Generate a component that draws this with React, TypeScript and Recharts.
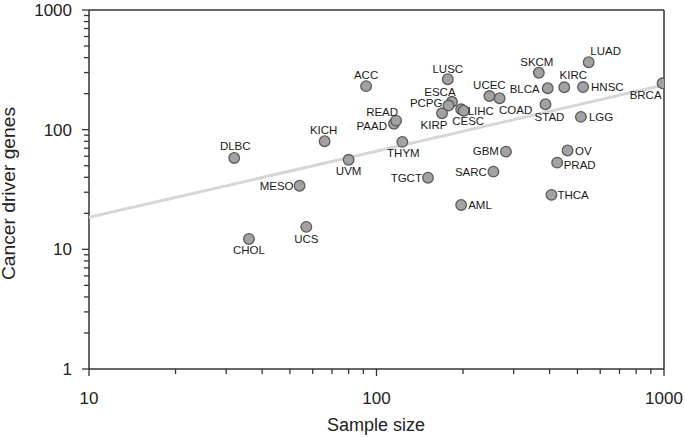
import React from 'react';
import { ScatterChart, Scatter, XAxis, YAxis, ReferenceLine } from 'recharts';

// TCGA cancer types: sample size vs number of cancer driver genes
const cancerTypes = ['ACC', 'AML', 'BLCA', 'BRCA', 'CESC', 'CHOL', 'COAD', 'DLBC', 'ESCA', 'GBM', 'HNSC', 'KICH', 'KIRC', 'KIRP', 'LGG', 'LIHC', 'LUAD', 'LUSC', 'MESO', 'OV', 'PAAD', 'PCPG', 'PRAD', 'READ', 'SARC', 'SKCM', 'STAD', 'TGCT', 'THCA', 'THYM', 'UCEC', 'UCS', 'UVM'];
const sampleSizes = [92, 197, 394, 989, 197, 36, 268, 32, 183, 282, 523, 66, 450, 169, 514, 201, 547, 177, 54, 462, 115, 178, 425, 117, 255, 367, 387, 151, 406, 123, 247, 57, 80];
const driverGenes = [231, 23.5, 222, 244, 148, 12.2, 183, 58, 171, 65.5, 227, 80, 226, 137, 128, 144, 366, 264, 34, 67, 112, 159, 53, 119, 44.6, 299, 163, 39.7, 28.5, 79, 191, 15.4, 56];

// fitted trend line end points
const trendSampleSize = [10, 1000];
const trendDriverGenes = [18.5, 236];

const xTicks = [10, 20, 30, 40, 50, 60, 70, 80, 90, 100, 200, 300, 400, 500, 600, 700, 800, 900, 1000];
const yTicks = [1, 2, 3, 4, 5, 6, 7, 8, 9, 10, 20, 30, 40, 50, 60, 70, 80, 90, 100, 200, 300, 400, 500, 600, 700, 800, 900, 1000];
const majorTicks = [1, 10, 100, 1000];

const points = cancerTypes.map((name, i) => ({ name, x: sampleSizes[i], y: driverGenes[i] }));
const trend = trendSampleSize.map((x, i) => ({ x, y: trendDriverGenes[i] }));

// label placement next to each point: [dx, dy, anchor]
const labelPos: Record<string, [number, number, string]> = {
  ACC: [0, -7.5, 'middle'], AML: [7, 4, 'start'], BLCA: [-8, 4.5, 'end'], BRCA: [-17, 15.5, 'middle'],
  CESC: [7, 16, 'middle'], CHOL: [0, 15, 'middle'], COAD: [16, 15.5, 'middle'], DLBC: [1, -8, 'middle'],
  ESCA: [-12, -6, 'middle'], GBM: [-7, 3.5, 'end'], HNSC: [8, 4, 'start'], KICH: [-1, -7, 'middle'],
  KIRC: [9, -8, 'middle'], KIRP: [-8, 16, 'middle'], LGG: [8, 4.5, 'start'], LIHC: [4, 4.5, 'start'],
  LUAD: [17, -7.5, 'middle'], LUSC: [0, -6.5, 'middle'], MESO: [-6, 4, 'end'], OV: [7.5, 4.5, 'start'],
  PAAD: [-7, 6, 'end'], PCPG: [-6, 1.5, 'end'], PRAD: [6.5, 6.5, 'start'], READ: [-14, -5, 'middle'],
  SARC: [-6.5, 4, 'end'], SKCM: [-2, -7, 'middle'], STAD: [4, 17, 'middle'], TGCT: [-6, 4.5, 'end'],
  THCA: [6, 4, 'start'], THYM: [1, 15, 'middle'], UCEC: [0, -7, 'middle'], UCS: [0, 16, 'middle'],
  UVM: [0, 15.5, 'middle'],
};

const FONT = 'Liberation Sans, Arial, sans-serif';
const AXIS = '#333';

function PointMark(props: any) {
  const { cx, cy, payload } = props;
  const [dx, dy, anchor] = labelPos[payload.name] || [0, -8, 'middle'];
  return (
    <g>
      <circle cx={cx} cy={cy} r={5.3} fill="#a2a2a2" stroke="#5a5a5a" strokeWidth={1.3} />
      <text x={cx + dx} y={cy + dy} textAnchor={anchor} fontSize={11.5} fontFamily={FONT} fill="#1a1a1a">
        {payload.name}
      </text>
    </g>
  );
}

function XTick(props: any) {
  const { x, y, payload } = props;
  const major = majorTicks.includes(payload.value);
  return (
    <g>
      <line x1={x} x2={x} y1={y} y2={y + (major ? 7 : 5)} stroke={AXIS} strokeWidth={1.3} />
      {major && (
        <text x={x} y={y + 35} textAnchor="middle" fontSize={17} fontFamily={FONT} fill="#222">
          {payload.value}
        </text>
      )}
    </g>
  );
}

function YTick(props: any) {
  const { x, y, payload } = props;
  const major = majorTicks.includes(payload.value);
  return (
    <g>
      <line x1={x} x2={x - (major ? 7 : 5)} y1={y} y2={y} stroke={AXIS} strokeWidth={1.3} />
      {major && (
        <text x={x - 17} y={y + 6} textAnchor="end" fontSize={17} fontFamily={FONT} fill="#222">
          {payload.value}
        </text>
      )}
    </g>
  );
}

export default function App() {
  return (
    <div style={{ position: 'absolute', left: 0, top: 0, width: 685, height: 437, background: '#fff' }}>
      <ScatterChart width={685} height={437} margin={{ top: 10, right: 21, bottom: 0, left: 0 }}>
        <XAxis
          type="number"
          dataKey="x"
          scale="log"
          domain={[10, 1000]}
          allowDataOverflow
          ticks={xTicks}
          interval={0}
          height={68}
          tickSize={0}
          tickMargin={0}
          tick={<XTick />}
          stroke={AXIS}
          strokeWidth={1.5}
          label={{
            content: () => (
              <text x={376} y={431} textAnchor="middle" fontSize={18} fontFamily={FONT} fill="#222">
                Sample size
              </text>
            ),
          }}
        />
        <YAxis
          type="number"
          dataKey="y"
          scale="log"
          domain={[1, 1000]}
          allowDataOverflow
          ticks={yTicks}
          interval={0}
          width={89}
          tickSize={0}
          tickMargin={0}
          tick={<YTick />}
          stroke={AXIS}
          strokeWidth={1.5}
          label={{
            content: () => (
              <text
                x={15}
                y={193.5}
                transform="rotate(-90 15 193.5)"
                textAnchor="middle"
                fontSize={18}
                fontFamily={FONT}
                fill="#222"
                textLength={173}
                lengthAdjust="spacingAndGlyphs"
              >
                Cancer driver genes
              </text>
            ),
          }}
        />
        <ReferenceLine y={1000} stroke={AXIS} strokeWidth={1.5} />
        <ReferenceLine x={1000} stroke={AXIS} strokeWidth={1.5} />
        <Scatter
          data={trend}
          line={{ stroke: '#d6d6d6', strokeWidth: 3 }}
          shape={() => <g />}
          isAnimationActive={false}
        />
        <Scatter data={points} shape={(p: any) => <PointMark {...p} />} isAnimationActive={false} />
      </ScatterChart>
    </div>
  );
}
